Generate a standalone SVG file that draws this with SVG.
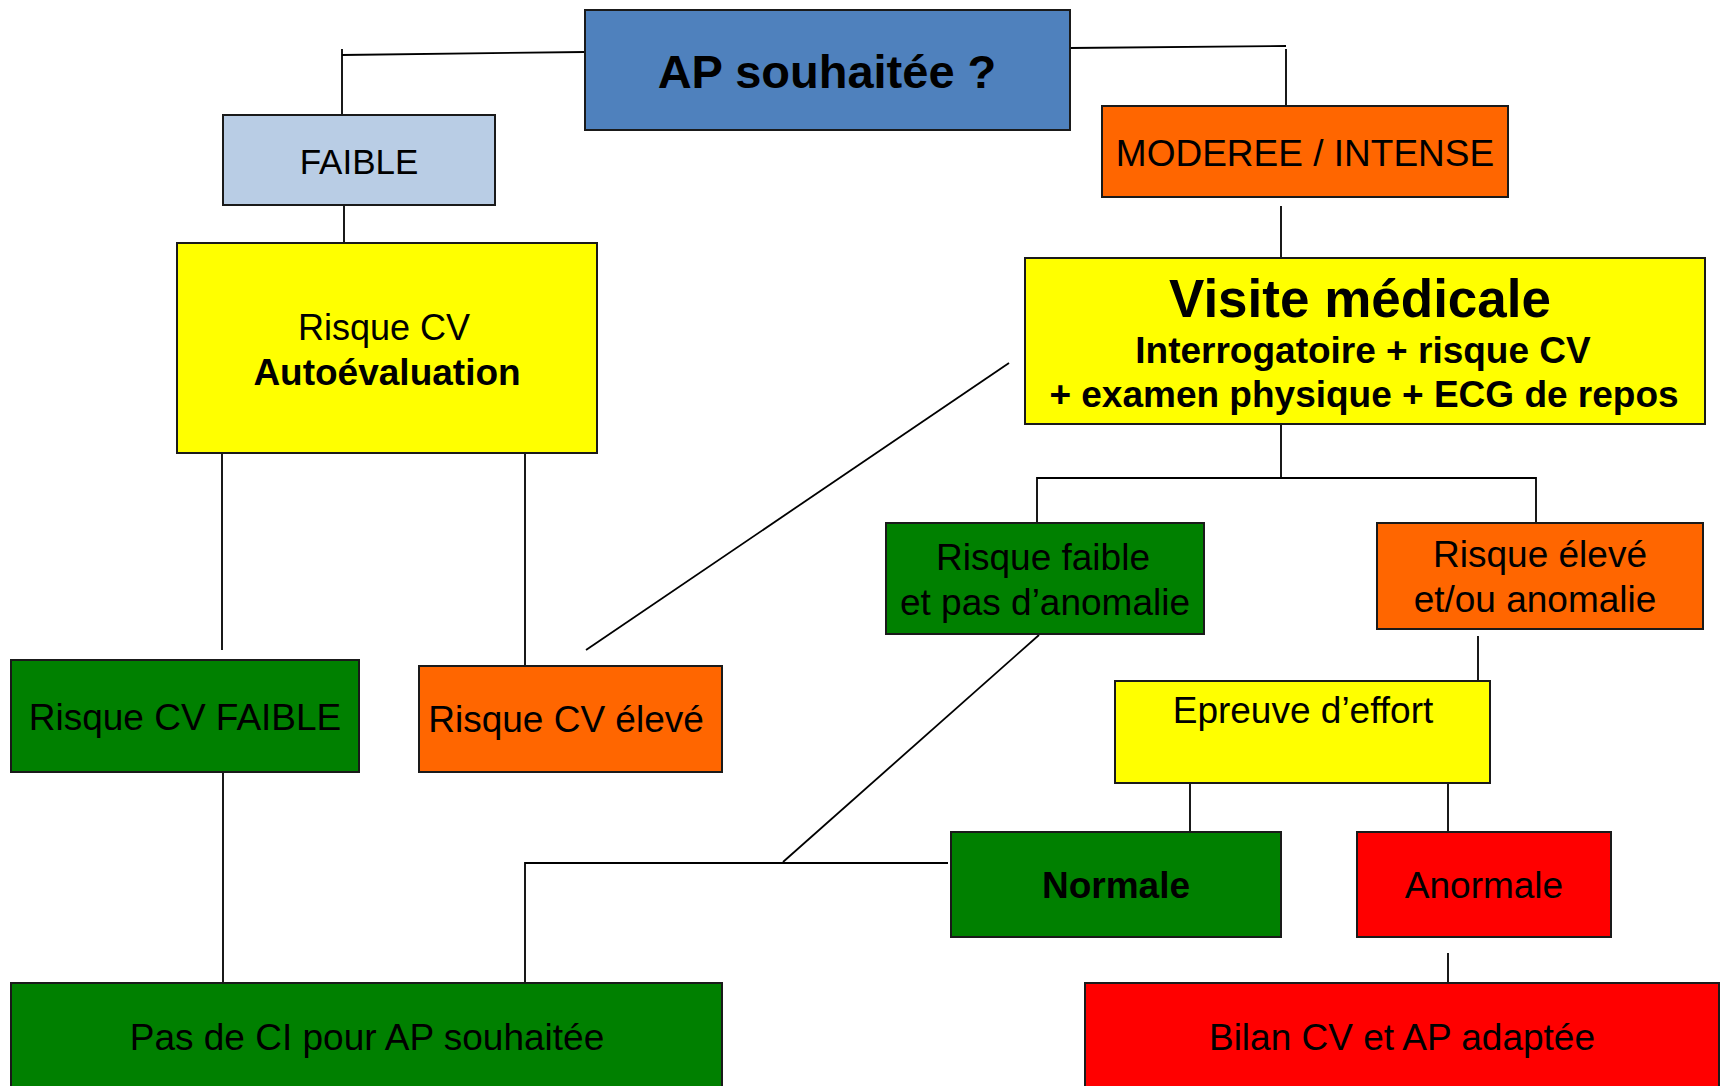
<svg xmlns="http://www.w3.org/2000/svg" width="1721" height="1086" viewBox="0 0 1721 1086">
<style>
.box{stroke:#1a1a1a;stroke-width:2}
.t{font-family:"Liberation Sans",Arial,sans-serif;font-size:37px;fill:#000;text-anchor:middle}
.b{font-weight:bold}
.c{fill:none;stroke:#000;stroke-width:1.8}
</style>
<rect width="1721" height="1086" fill="#fff"/>
<g id="connectors">
<polyline class="c" points="585,52 342,55"/>
<line class="c" x1="342" y1="49" x2="342" y2="115"/>
<polyline class="c" points="1070,48 1286,46"/>
<line class="c" x1="1286" y1="49" x2="1286" y2="106"/>
<line class="c" x1="344" y1="205" x2="344" y2="243"/>
<line class="c" x1="1281" y1="206" x2="1281" y2="258"/>
<line class="c" x1="222" y1="453" x2="222" y2="650"/>
<line class="c" x1="525" y1="453" x2="525" y2="666"/>
<line class="c" x1="1009" y1="363" x2="586" y2="650"/>
<polyline class="c" points="1281,424 1281,478"/>
<polyline class="c" points="1037,523 1037,478 1536,478 1536,523"/>
<line class="c" x1="1478" y1="636" x2="1478" y2="696"/>
<line class="c" x1="1190" y1="783" x2="1190" y2="832"/>
<line class="c" x1="1448" y1="777" x2="1448" y2="832"/>
<line class="c" x1="1448" y1="953" x2="1448" y2="983"/>
<line class="c" x1="223" y1="772" x2="223" y2="983"/>
<line class="c" x1="1039" y1="635" x2="783" y2="862"/>
<polyline class="c" points="525,983 525,863 948,863"/>
</g>
<g id="ap">
<rect class="box" x="585" y="10" width="485" height="120" fill="#4F81BD"/>
<text class="t b" x="827" y="88" font-size="47" style="font-size:47px">AP souhaitée ?</text>
</g>
<g id="faible">
<rect class="box" x="223" y="115" width="272" height="90" fill="#B9CDE5"/>
<text class="t" x="359" y="174" style="font-size:35px">FAIBLE</text>
</g>
<g id="moderee">
<rect class="box" x="1102" y="106" width="406" height="91" fill="#FF6600"/>
<text class="t" x="1305" y="166">MODEREE / INTENSE</text>
</g>
<g id="risque-cv">
<rect class="box" x="177" y="243" width="420" height="210" fill="#FFFF00"/>
<text class="t" x="384" y="340" style="font-size:36px">Risque CV</text>
<text class="t b" x="387" y="385">Autoévaluation</text>
</g>
<g id="visite">
<rect class="box" x="1025" y="258" width="680" height="166" fill="#FFFF00"/>
<text class="t b" x="1360" y="317" style="font-size:53px">Visite médicale</text>
<text class="t b" x="1363" y="363">Interrogatoire + risque CV</text>
<text class="t b" x="1364" y="407">+ examen physique + ECG de repos</text>
</g>
<g id="risque-cv-faible">
<rect class="box" x="11" y="660" width="348" height="112" fill="#008000"/>
<text class="t" x="185" y="730">Risque CV FAIBLE</text>
</g>
<g id="risque-cv-eleve">
<rect class="box" x="419" y="666" width="303" height="106" fill="#FF6600"/>
<text class="t" x="566" y="732">Risque CV élevé</text>
</g>
<g id="risque-faible">
<rect class="box" x="886" y="523" width="318" height="111" fill="#008000"/>
<text class="t" x="1043" y="570">Risque faible</text>
<text class="t" x="1045" y="615">et pas d’anomalie</text>
</g>
<g id="risque-eleve">
<rect class="box" x="1377" y="523" width="326" height="106" fill="#FF6600"/>
<text class="t" x="1540" y="567">Risque élevé</text>
<text class="t" x="1535" y="612">et/ou anomalie</text>
</g>
<g id="epreuve">
<rect class="box" x="1115" y="681" width="375" height="102" fill="#FFFF00"/>
<text class="t" x="1303" y="723">Epreuve d’effort</text>
</g>
<g id="normale">
<rect class="box" x="951" y="832" width="330" height="105" fill="#008000"/>
<text class="t b" x="1116" y="898">Normale</text>
</g>
<g id="anormale">
<rect class="box" x="1357" y="832" width="254" height="105" fill="#FF0000"/>
<text class="t" x="1484" y="898">Anormale</text>
</g>
<g id="pas-de-ci">
<rect class="box" x="11" y="983" width="711" height="130" fill="#008000"/>
<text class="t" x="367" y="1050">Pas de CI pour AP souhaitée</text>
</g>
<g id="bilan">
<rect class="box" x="1085" y="983" width="634" height="130" fill="#FF0000"/>
<text class="t" x="1402" y="1050">Bilan CV et AP adaptée</text>
</g>
</svg>
